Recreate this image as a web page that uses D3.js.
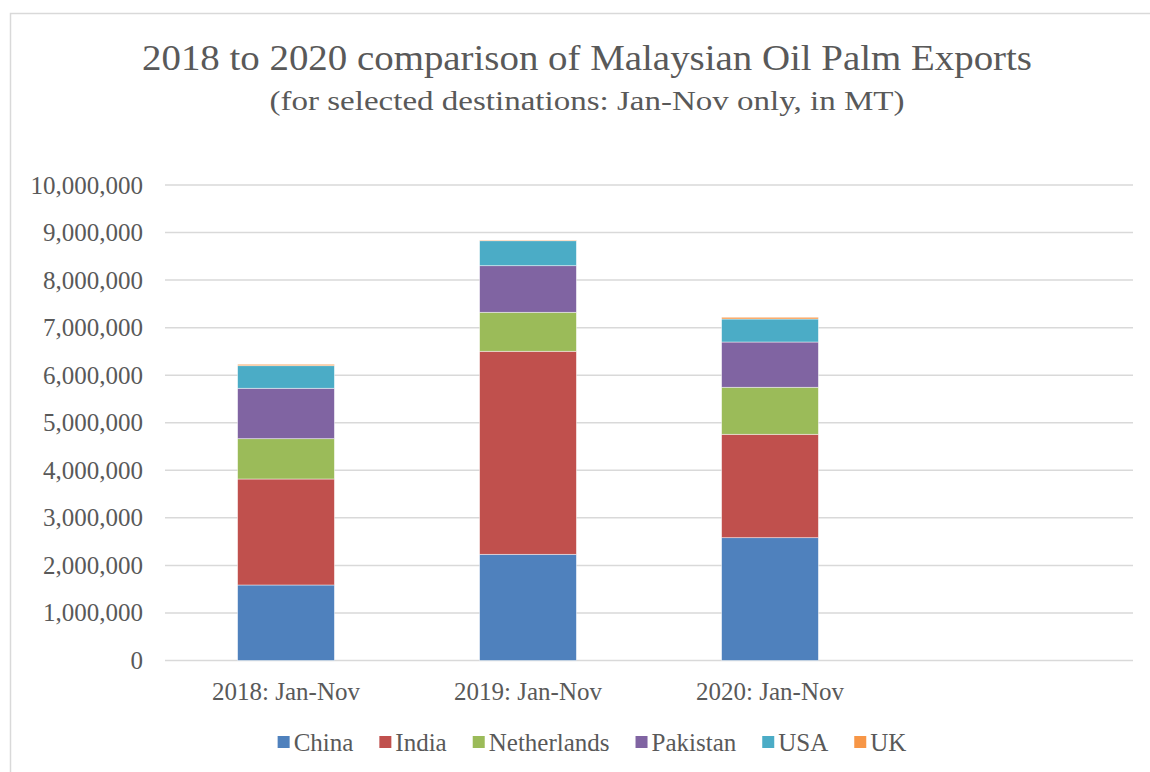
<!DOCTYPE html>
<html>
<head>
<meta charset="utf-8">
<script src="https://cdn.jsdelivr.net/npm/d3@7"></script>
<style>
  body { margin: 0; background: #fff; }
  text { font-family: "Liberation Serif", serif; fill: #595959; }
</style>
</head>
<body>
<svg id="chart" width="1150" height="772"></svg>
<script>
// Data (metric tonnes, Jan-Nov)
const categories = ["2018: Jan-Nov", "2019: Jan-Nov", "2020: Jan-Nov"];
const seriesNames = ["China", "India", "Netherlands", "Pakistan", "USA", "UK"];
const china       = [1588000, 2233000, 2583000];
const india       = [2229000, 4270000, 2174000];
const netherlands = [ 848000,  820000,  989000];
const pakistan    = [1060000,  980000,  952000];
const usa         = [ 475000,  525000,  484000];
const uk          = [  29000,   15000,   36000];
const yTicks = [0, 1000000, 2000000, 3000000, 4000000, 5000000, 6000000, 7000000, 8000000, 9000000, 10000000];

const colors = ["#4f81bd", "#c0504d", "#9bbb59", "#8064a2", "#4bacc6", "#f79646"];

const svg = d3.select("#chart");

// chart frame
svg.append("rect")
    .attr("x", 10.5).attr("y", 13.5)
    .attr("width", 1160).attr("height", 780)
    .attr("fill", "#fff")
    .attr("stroke", "#d9d9d9")
    .attr("stroke-width", 1.5);

// Titles
svg.append("text")
    .attr("x", 587).attr("y", 70)
    .attr("text-anchor", "middle")
    .attr("font-size", 35)
    .attr("textLength", 890)
    .attr("lengthAdjust", "spacingAndGlyphs")
    .text("2018 to 2020 comparison of Malaysian Oil Palm Exports");
svg.append("text")
    .attr("x", 587).attr("y", 110)
    .attr("text-anchor", "middle")
    .attr("font-size", 28)
    .attr("textLength", 635)
    .attr("lengthAdjust", "spacingAndGlyphs")
    .text("(for selected destinations: Jan-Nov only, in MT)");

// Scales
const plotLeft = 165, plotRight = 1133;
const x = d3.scaleBand()
    .domain([...categories, ""])   // Excel left an empty 4th slot
    .range([plotLeft, plotRight])
    .paddingInner(0.6)
    .paddingOuter(0.3);
const y = d3.scaleLinear().domain([0, 10000000]).range([660.5, 185]);

// Gridlines
svg.append("g")
    .selectAll("line")
    .data(yTicks)
    .join("line")
    .attr("x1", plotLeft).attr("x2", plotRight)
    .attr("y1", d => y(d)).attr("y2", d => y(d))
    .attr("stroke", "#d9d9d9")
    .attr("stroke-width", 1.5);

// Y axis labels
const yAxis = svg.append("g")
    .attr("transform", `translate(${plotLeft},0)`)
    .call(d3.axisLeft(y).tickValues(yTicks).tickFormat(d3.format(",")).tickSize(0).tickPadding(22));
yAxis.select(".domain").remove();
yAxis.selectAll("text")
    .attr("font-size", 25)
    .attr("font-family", "Liberation Serif")
    .attr("fill", "#595959");

// Stack
const rows = categories.map((c, i) => ({
    cat: c, China: china[i], India: india[i], Netherlands: netherlands[i],
    Pakistan: pakistan[i], USA: usa[i], UK: uk[i]
}));
const stacked = d3.stack().keys(seriesNames)(rows);

svg.append("g")
    .selectAll("g")
    .data(stacked)
    .join("g")
    .attr("fill", (d, i) => colors[i])
    .selectAll("rect")
    .data(d => d)
    .join("rect")
    .attr("x", d => x(d.data.cat))
    .attr("width", x.bandwidth())
    .attr("y", d => y(d[1]))
    .attr("height", d => y(d[0]) - y(d[1]))
    .attr("stroke", "#fff")
    .attr("stroke-opacity", 0.6)
    .attr("stroke-width", 0.75);

// X axis labels
const xAxis = svg.append("g")
    .attr("transform", `translate(0,${y(0)})`)
    .call(d3.axisBottom(x).tickSize(0).tickPadding(22));
xAxis.select(".domain").remove();
xAxis.selectAll("text")
    .attr("font-size", 25)
    .attr("font-family", "Liberation Serif")
    .attr("fill", "#595959");

// Legend
const legend = svg.append("g");
const items = legend.selectAll("g")
    .data(seriesNames)
    .join("g");
items.append("rect")
    .attr("width", 12).attr("height", 12)
    .attr("y", -6)
    .attr("fill", (d, i) => colors[i]);
items.append("text")
    .attr("x", 16).attr("y", 8.5)
    .attr("font-size", 25)
    .text(d => d);
let cx = 0;
items.each(function () {
    const g = d3.select(this);
    g.attr("transform", `translate(${cx},0)`);
    cx += 16 + g.select("text").node().getComputedTextLength() + 26;
});
const legendWidth = cx - 26;
legend.attr("transform", `translate(${592 - legendWidth / 2},742)`);
</script>
</body>
</html>
